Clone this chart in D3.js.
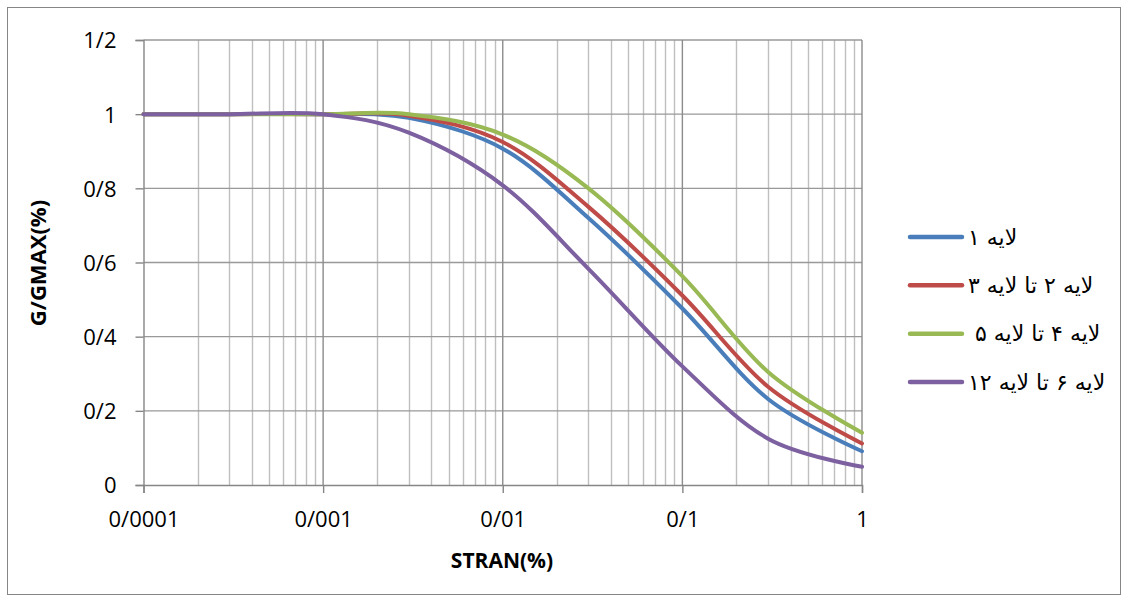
<!DOCTYPE html>
<html><head><meta charset="utf-8">
<script src="https://cdn.jsdelivr.net/npm/d3@7"></script>
<style>
html,body{margin:0;padding:0;background:#fff;}
svg{display:block;}
</style></head>
<body>
<svg id="chart" width="1128" height="601"></svg>
<script>
// ---- data ----
const strain    = [0.0001,0.0003,0.001,0.003,0.01,0.03,0.1,0.3,1];
const layer1    = [1,1,1,0.99,0.907,0.72,0.476,0.232,0.091];
const layer2_3  = [1,1,1,0.996,0.925,0.75,0.511,0.265,0.112];
const layer4_5  = [1,1,1,1.0,0.945,0.80,0.563,0.305,0.141];
const layer6_12 = [1,1,1,0.95,0.808,0.583,0.32,0.125,0.049];
const seriesNames = ["لایه ۱","لایه ۲ تا لایه ۳","لایه ۴ تا لایه ۵ ","لایه ۶ تا لایه ۱۲"];
const xTickValues = [0.0001,0.001,0.01,0.1,1];
const xTickLabels = ["0/0001","0/001","0/01","0/1","1"];
const yTickValues = [0,0.2,0.4,0.6,0.8,1,1.2];
const yTickLabels = ["0","0/2","0/4","0/6","0/8","1","1/2"];
const xTitle = "STRAN(%)";
const yTitle = "G/GMAX(%)";

const seriesValues = [layer1, layer2_3, layer4_5, layer6_12];
const colors = ["#4A7EBB","#BE4B48","#98B954","#7D60A0"];

// ---- layout ----
const svg = d3.select("#chart");
const x = d3.scaleLog().domain([1e-4,1]).range([143.5,862]);
const y = d3.scaleLinear().domain([0,1.2]).range([485,40]);

svg.append("rect").attr("x",7.5).attr("y",7.5).attr("width",1113).attr("height",587)
  .attr("fill","#fff").attr("stroke","#868686").attr("stroke-width",1);

// grid
const allTicks = x.ticks();
const isMajor = v => Math.abs(Math.log10(v) - Math.round(Math.log10(v))) < 1e-9;
svg.append("g").selectAll("line").data(allTicks.filter(v=>!isMajor(v))).join("line")
  .attr("x1",d=>Math.round(x(d))+0.5).attr("x2",d=>Math.round(x(d))+0.5)
  .attr("y1",y(1.2)).attr("y2",y(0))
  .attr("stroke","#bfbfbf").attr("stroke-width",1.4);
svg.append("g").selectAll("line").data(yTickValues.slice(1)).join("line")
  .attr("x1",x(1e-4)).attr("x2",x(1))
  .attr("y1",d=>y(d)).attr("y2",d=>y(d))
  .attr("stroke","#999999").attr("stroke-width",1.4);
svg.append("g").selectAll("line").data(xTickValues.slice(1)).join("line")
  .attr("x1",d=>x(d)).attr("x2",d=>x(d))
  .attr("y1",y(1.2)).attr("y2",y(0))
  .attr("stroke","#8c8c8c").attr("stroke-width",1.4);

// axes
const xAxis = d3.axisBottom(x).tickValues(xTickValues).tickFormat((d,i)=>xTickLabels[i]).tickSize(8).tickPadding(18);
const gx = svg.append("g").attr("transform",`translate(0,${y(0)})`).call(xAxis);
const yAxis = d3.axisLeft(y).tickValues(yTickValues).tickFormat((d,i)=>yTickLabels[i]).tickSize(8).tickPadding(19);
const gy = svg.append("g").attr("transform",`translate(${x(1e-4)},0)`).call(yAxis);
[gx,gy].forEach(g=>{
  g.select(".domain").attr("stroke","#868686").attr("stroke-width",1.4);
  g.selectAll(".tick line").attr("stroke","#868686").attr("stroke-width",1.4);
  g.selectAll(".tick text").attr("fill","#000").style("font-family","'Open Sans'").style("font-size","22px");
});
gy.selectAll(".tick text").attr("dy","0.36em");
gx.selectAll(".tick text").attr("dy","0.72em");

// titles
svg.append("text").attr("x",502).attr("y",568).attr("text-anchor","middle")
  .style("font-family","'Open Sans'").style("font-weight","bold").style("font-size","21px").text(xTitle);
svg.append("text").attr("transform","translate(46,263) rotate(-90)").attr("text-anchor","middle")
  .style("font-family","'Open Sans'").style("font-weight","bold").style("font-size","22px").text(yTitle);

// lines (Excel-style smoothed)
const line = d3.line().x(d=>x(d[0])).y(d=>y(d[1])).curve(d3.curveCardinal.tension(0));
seriesValues.forEach((vals,i)=>{
  svg.append("path").datum(strain.map((s,j)=>[s,vals[j]]))
    .attr("d",line).attr("fill","none").attr("stroke",colors[i])
    .attr("stroke-width",4).attr("stroke-linecap","round").attr("stroke-linejoin","round");
});

// legend
const legY = d3.scalePoint().domain(d3.range(seriesNames.length)).range([237,382]);
const leg = svg.append("g");
seriesNames.forEach((name,i)=>{
  leg.append("line").attr("x1",910).attr("x2",962).attr("y1",legY(i)).attr("y2",legY(i))
    .attr("stroke",colors[i]).attr("stroke-width",4.5).attr("stroke-linecap","round");
  leg.append("text").attr("x",968).attr("y",legY(i)).attr("dy","0.35em")
    .attr("direction","rtl").attr("text-anchor","end")
    .style("white-space","pre").style("unicode-bidi","embed")
    .style("font-family","'DejaVu Sans'").style("font-size","22px").text(name);
});
</script>
</body></html>
